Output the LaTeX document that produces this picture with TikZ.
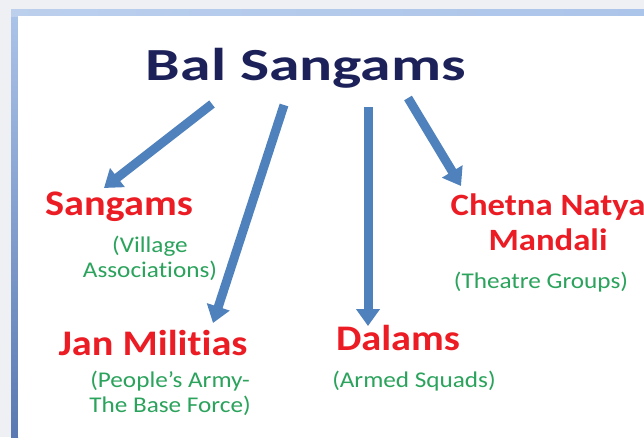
\documentclass[tikz,border=0pt]{standalone}
\usepackage{fontspec}
\setmainfont{Carlito}
\newfontfamily\titlefont{Carlito}[FakeStretch=1.34,Ligatures=NoCommon]
\newfontfamily\labelfont{Carlito}[FakeStretch=1.12,Ligatures=NoCommon]
\usetikzlibrary{arrows.meta,positioning,calc}
\definecolor{navy}{HTML}{1C2259}
\definecolor{slidered}{HTML}{EC1C24}
\definecolor{slidegreen}{HTML}{2BA35C}
\definecolor{arrowblue}{HTML}{4F81BD}
\definecolor{framelight}{HTML}{ABC4E9}
\definecolor{framedark}{HTML}{5A79B2}
\definecolor{slidebg}{HTML}{EEF0F3}

\begin{document}
\begin{tikzpicture}[x=1pt,y=-1pt,
  head/.style={font=\labelfont\bfseries\fontsize{36}{35}\selectfont,text=slidered,inner sep=0pt,anchor=base},
  sub/.style={font=\labelfont\fontsize{22.5}{25}\selectfont,text=slidegreen,align=center,inner sep=0pt,anchor=base},
  branch/.style={draw=arrowblue,line width=9pt,-{Triangle[width=23pt,length=17pt]}}]
  % slide frame
  \fill[slidebg] (0,0) rectangle (644,437);
  \shade[top color=framelight,bottom color=framedark] (11,9) rectangle (18,437);
  \shade[left color=framelight!80!white,right color=framelight] (11,9) rectangle (644,16);
  \fill[white] (18,16) rectangle (644,437);
  \useasboundingbox (0,0) rectangle (644,437);

  \node[font=\titlefont\bfseries\fontsize{46}{50}\selectfont,text=navy,inner sep=0pt,anchor=base] (title) at (306,80) {Bal Sangams};

  % base of a multi-line node = its last line
  \node[head] (sangams) at (119,215) {Sangams};
  \node[sub] (village) at (150,277) {(Village\\Associations)};
  \node[head] (jan) at (153,355) {Jan Militias};
  \node[sub] (army) at (170,412) {(People’s Army-\\The Base Force)};
  \node[head] (dalams) at (398,350) {Dalams};
  \node[sub] (squads) at (414,387) {(Armed Squads)};
  \node[head,font=\labelfont\bfseries\fontsize{31}{35}\selectfont,align=center] (chetna) at (548,250) {Chetna Natya\\Mandali};
  \node[sub] (theatre) at (541,288) {(Theatre Groups)};

  % arrow ends
  \coordinate (tail1) at (212,104);
  \coordinate (tail2) at (284,105);
  \coordinate (tail3) at (368,107);
  \coordinate (tail4) at (408,98);
  \coordinate (tip1) at (104,188);
  \coordinate (tip2) at (213,323);
  \coordinate (tip3) at (368,326);
  \coordinate (tip4) at (461,186);
  \foreach \i in {1,...,4}
    \draw[branch] (tail\i) -- (tip\i);
\end{tikzpicture}
\end{document}
